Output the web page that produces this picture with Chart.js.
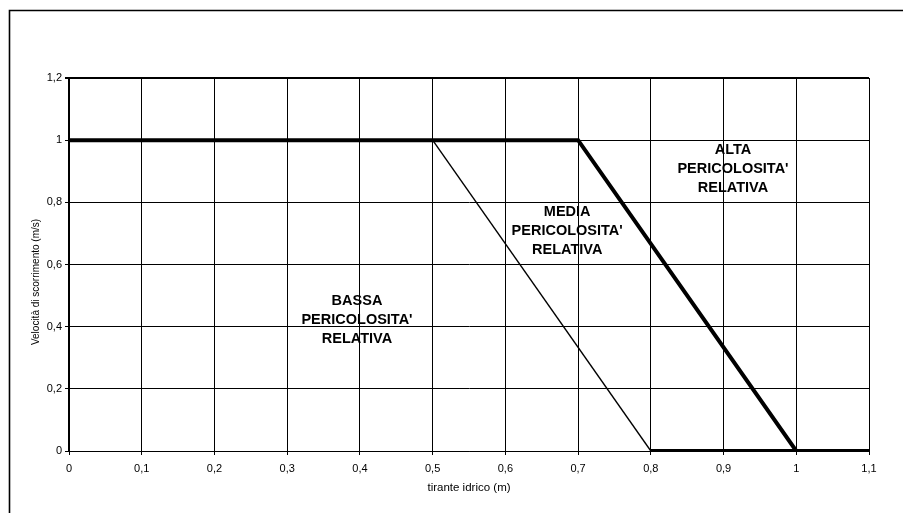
<!DOCTYPE html>
<html>
<head>
<meta charset="utf-8">
<script src="https://cdn.jsdelivr.net/npm/chart.js@4/dist/chart.umd.min.js"></script>
<style>
html,body{margin:0;padding:0;background:#fff;}
canvas{display:block;}
</style>
</head>
<body>
<canvas id="c" width="903" height="513"></canvas>
<script>
// Data (x = tirante idrico (m), y = velocità (m/s))
const thickX = [0, 0.5, 0.7, 1.0, 1.1];
const thickY = [1, 1, 1, 0, 0];
const thinX = [0.5, 0.8];
const thinY = [1, 0];
const baseX = [0.8, 1.1];
const baseY = [0, 0];

const xTicks = [0, 0.1, 0.2, 0.3, 0.4, 0.5, 0.6, 0.7, 0.8, 0.9, 1.0, 1.1];
const yTicks = [0, 0.2, 0.4, 0.6, 0.8, 1.0, 1.2];

const zoneNames = [
  ["BASSA", "PERICOLOSITA'", "RELATIVA"],
  ["MEDIA", "PERICOLOSITA'", "RELATIVA"],
  ["ALTA", "PERICOLOSITA'", "RELATIVA"]
];
const zoneX = [0.396, 0.685, 0.913];
const zoneY = [0.421, 0.708, 0.907];

const xTitle = "tirante idrico (m)";
const yTitle = "Velocità di scorrimento (m/s)";

function pts(xs, ys){ return xs.map((x,i)=>({x:x, y:ys[i]})); }
function fmt(v){ return (Math.round(v*10)/10).toString().replace('.', ','); }

const FONT = "'Liberation Sans', Arial, sans-serif";

const framePlugin = {
  id: 'frame',
  beforeDraw(chart){
    const c = chart.ctx;
    c.save();
    c.fillStyle = '#fff';
    c.fillRect(0,0,chart.width,chart.height);
    c.strokeStyle = '#000';
    c.lineWidth = 1.6;
    c.beginPath();
    c.moveTo(9.5, chart.height + 2);
    c.lineTo(9.5, 10.5);
    c.lineTo(chart.width + 2, 10.5);
    c.stroke();
    c.restore();
  },
  afterDatasetsDraw(chart){
    const c = chart.ctx;
    const xs = chart.scales.x, ys = chart.scales.y;
    c.save();
    c.fillStyle = '#000';
    c.font = "bold 14.5px " + FONT;
    c.textAlign = 'center';
    c.textBaseline = 'middle';
    zoneNames.forEach((lines, i) => {
      const px = xs.getPixelForValue(zoneX[i]);
      const py = ys.getPixelForValue(zoneY[i]);
      const lh = 19;
      lines.forEach((t, j) => {
        c.fillText(t, px, py + (j - (lines.length-1)/2) * lh);
      });
    });
    // y axis title
    c.font = "10px " + FONT;
    c.translate(36, 282);
    c.rotate(-Math.PI/2);
    c.fillText(yTitle, 0, 0);
    c.restore();
  }
};

new Chart(document.getElementById('c'), {
  type: 'scatter',
  data: {
    datasets: [
      { data: pts(thinX, thinY), showLine: true, borderColor: '#000', borderWidth: 1.4, pointRadius: 0, tension: 0 },
      { data: pts(baseX, baseY), showLine: true, borderColor: '#000', borderWidth: 4, pointRadius: 0, tension: 0 },
      { data: pts(thickX, thickY), showLine: true, borderColor: '#000', borderWidth: 4, pointRadius: 0, tension: 0, borderCapStyle: 'butt' }
    ]
  },
  options: {
    responsive: false,
    devicePixelRatio: 1,
    animation: false,
    events: [],
    layout: { padding: { left: 0, top: 78, right: 34, bottom: 0 } },
    plugins: { legend: { display: false }, tooltip: { enabled: false }, title: { display: false } },
    scales: {
      x: {
        type: 'linear', min: 0, max: 1.1,
        afterBuildTicks(s){ s.ticks = xTicks.map(v => ({value: v})); },
        afterFit(s){ s.height = 62; },
        ticks: { color: '#000', font: { family: FONT, size: 11 }, padding: 7, maxRotation: 0, autoSkip: false, callback: v => fmt(v) },
        grid: { color: '#000', lineWidth: 1, drawTicks: true, tickLength: 4, tickColor: '#000' },
        border: { display: true, color: '#000', width: 1 },
        title: { display: true, text: xTitle, color: '#000', font: { family: FONT, size: 11.5 }, padding: 18, align: 'center' }
      },
      y: {
        type: 'linear', min: 0, max: 1.2,
        afterBuildTicks(s){ s.ticks = yTicks.map(v => ({value: v})); },
        afterFit(s){ s.width = 69; },
        ticks: { color: '#000', font: { family: FONT, size: 11 }, padding: 3, autoSkip: false, callback: v => fmt(v) },
        grid: { color: '#000', lineWidth: ctx => (ctx.tick && ctx.tick.value === 1.2) ? 2 : 1, drawTicks: true, tickLength: 4, tickColor: '#000' },
        border: { display: true, color: '#000', width: 2 },
        title: { display: false }
      }
    }
  },
  plugins: [framePlugin]
});
</script>
</body>
</html>
